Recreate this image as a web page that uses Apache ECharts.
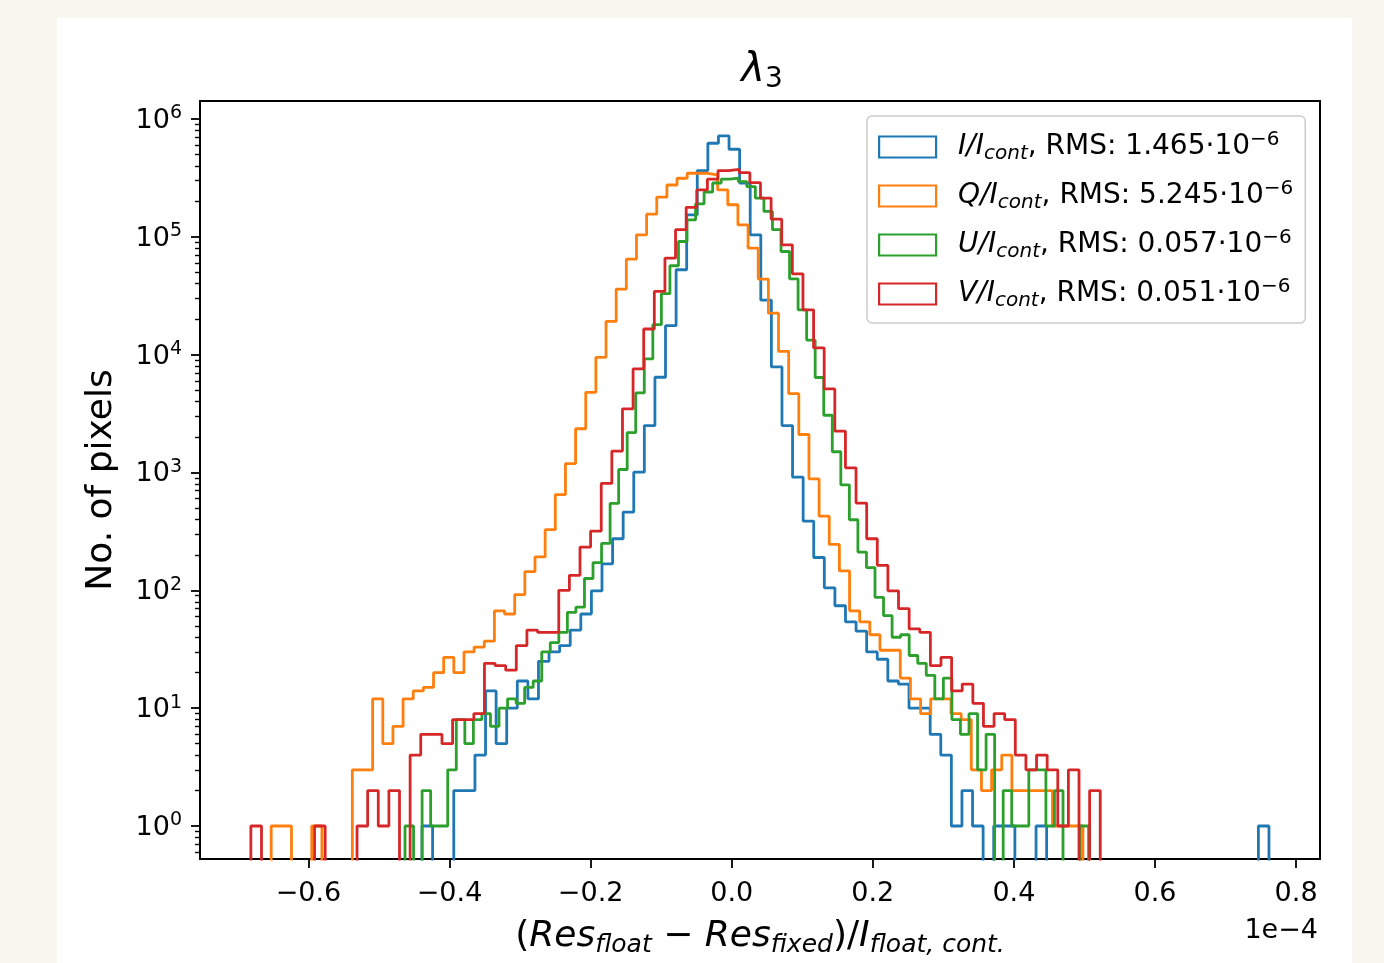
<!DOCTYPE html>
<html><head><meta charset="utf-8">
<script src="https://cdn.jsdelivr.net/npm/echarts@6/dist/echarts.min.js"></script>
<style>
html,body{margin:0;padding:0;width:1384px;height:963px;background:#f8f8f1;overflow:hidden}
#c{position:absolute;left:57px;top:18px;width:1295px;height:945px;background:#fff}
</style></head><body><div id="c"></div>
<script>
// ---- data ----
const xTickValues = [-0.6, -0.4, -0.2, 0.0, 0.2, 0.4, 0.6, 0.8];
const yTickValues = [1, 10, 100, 1e3, 1e4, 1e5, 1e6];
const yMinorTickValues = [0.6,0.7,0.8,0.9,2,3,4,5,6,7,8,9,20,30,40,50,60,70,80,90,200,300,400,500,600,700,800,900,
  2e3,3e3,4e3,5e3,6e3,7e3,8e3,9e3,2e4,3e4,4e4,5e4,6e4,7e4,8e4,9e4,2e5,3e5,4e5,5e5,6e5,7e5,8e5,9e5];
const seriesNames = ['I', 'Q', 'U', 'V'];
const rmsValues = ['1.465', '5.245', '0.057', '0.051'];
const colors = ['#1f77b4', '#ff7f0e', '#2ca02c', '#d62728'];
// histogram bins (x in units of 1e-4), 80 bins each
const binStarts = [-0.4390, -0.6528, -0.4631, -0.6816];
const binWidths = [0.015007, 0.014383, 0.012113, 0.015050];
const countsI = [1,0,0,2,2,4,14,5,10,17,
  12,25,30,34,46,63,99,168,274,461,
  1006,2500,6430,17600,52500,153500,365000,622000,718000,553000,
  285000,104000,29000,7870,2500,912,387,190,105,74,
  54,45,30,26,17,16,10,10,6,4,
  1,2,1,0,1,1,0,0,1,0,
  0,0,0,0,0,0,0,0,0,0,
  0,0,0,0,0,0,0,0,0,1];
const countsQ = [1,1,0,0,1,0,0,0,3,3,
  12,5,7,12,14,15,20,27,20,30,
  33,37,67,63,92,144,192,327,648,1190,
  2350,4790,9490,19150,36000,64700,104000,155600,217000,275000,
  314000,346000,346000,335000,250000,187000,126000,80000,43800,22500,
  10660,4670,2100,884,426,245,146,67,54,42,
  31,31,18,12,9,12,12,9,8,3,
  2,3,4,2,2,2,2,1,1,1];
const countsU = [1,0,2,1,1,3,8,5,8,9,
  7,10,12,11,15,17,30,36,44,65,
  72,126,172,250,546,1060,2180,4730,9190,17950,
  32900,56800,91200,139000,190000,240000,286000,308000,314000,294000,
  267000,213000,164000,115000,75000,44000,24000,13300,6400,3060,
  1500,785,397,211,156,87,61,40,42,28,
  24,19,12,18,8,6,9,3,6,0,
  2,1,1,3,3,1,2,0,0,1];
const countsV = [1,0,0,0,0,0,1,0,0,0,
  1,2,1,2,0,4,6,6,5,8,
  8,9,24,23,21,34,46,44,44,100,
  134,233,318,807,1520,3470,7570,16500,34400,65900,
  115000,178000,250000,308000,365000,374000,350000,288000,213000,141000,
  85500,48500,24000,11400,5120,2240,1096,550,274,163,
  99,70,47,44,23,27,14,16,11,7,
  9,8,4,3,4,3,1,3,0,2];
const allCounts = [countsI, countsQ, countsU, countsV];

// ---- build ----
const FONT = "'DejaVu Sans', 'Liberation Sans', sans-serif";
const FLOOR = 1e-3; // zero bins fall below the log axis and are clipped
function stepPoints(start, width, counts) {
  const pts = [[start, FLOOR]];
  counts.forEach((c, k) => pts.push([start + k * width, c > 0 ? c : FLOOR]));
  const end = start + counts.length * width;
  const last = counts[counts.length - 1];
  pts.push([end, last > 0 ? last : FLOOR]);
  pts.push([end, FLOOR]);
  return pts;
}
const series = seriesNames.map((n, i) => ({
  name: n, type: 'line', step: 'end', data: stepPoints(binStarts[i], binWidths[i], allCounts[i]),
  showSymbol: false, symbol: 'none', clip: true, silent: true,
  lineStyle: {color: colors[i], width: 2.8}, itemStyle: {color: colors[i]}, z: 2 + i
}));

const chart = echarts.init(document.getElementById('c'), null, {renderer: 'canvas'});
const base = {fontFamily: FONT, color: '#000'};
const option = {
  animation: false,
  backgroundColor: '#fff',
  grid: {left: 143, top: 83, right: 32, bottom: 103, show: true, borderColor: '#000', borderWidth: 2, backgroundColor: '#fff'},
  graphic: [
    {type: 'text', x: 705, y: 53, style: {text: '{it|λ}{sub|3}', textAlign: 'center', textVerticalAlign: 'middle',
      rich: {it: Object.assign({fontSize: 40, fontStyle: 'italic', lineHeight: 46}, base),
             sub: Object.assign({fontSize: 28, verticalAlign: 'bottom', lineHeight: 30}, base)}}},
    {type: 'text', x: 1261, y: 913, style: {text: '1e\u22124', textAlign: 'right', textVerticalAlign: 'middle',
      font: "27px 'DejaVu Sans'", fill: '#000'}}
  ],
  legend: {
    orient: 'vertical', left: 810, top: 98, padding: [14, 12, 12, 11],
    itemWidth: 57, itemHeight: 21, itemGap: 15, selectedMode: false,
    backgroundColor: 'rgba(255,255,255,0.8)', borderColor: '#cccccc', borderWidth: 1.5, borderRadius: 5,
    data: seriesNames.map((n, i) => ({name: n, icon: 'rect',
      itemStyle: {color: 'rgba(0,0,0,0)', borderColor: colors[i], borderWidth: 2.2}})),
    formatter: name => {
      const i = seriesNames.indexOf(name);
      return `{it|${name}/I}{sub|cont}{n|, RMS: ${rmsValues[i]}\u00b710}{sup|\u22126}`;
    },
    textStyle: {padding: [0, 0, 0, 17], rich: {
      it: Object.assign({fontSize: 28, fontStyle: 'italic', lineHeight: 34}, base),
      n: Object.assign({fontSize: 28, lineHeight: 34}, base),
      sub: Object.assign({fontSize: 20, fontStyle: 'italic', verticalAlign: 'bottom', lineHeight: 16}, base),
      sup: Object.assign({fontSize: 20, verticalAlign: 'top', lineHeight: 16}, base)}}
  },
  xAxis: {
    type: 'value', min: -0.7537, max: 0.8339,
    splitLine: {show: false}, axisLine: {show: false, onZero: false},
    axisTick: {show: true, length: 9, customValues: xTickValues, lineStyle: {color: '#000', width: 1.8}},
    axisLabel: {customValues: xTickValues, margin: 21, fontSize: 27, fontFamily: FONT, color: '#000',
      formatter: v => (v < -1e-9 ? '\u2212' : '') + Math.abs(v).toFixed(1)},
    name: '{n|(}{it|Res}{sub|float}{n| \u2212 }{it|Res}{sub|fixed}{n|)/}{it|I}{sub|float, cont.}',
    nameLocation: 'middle', nameGap: 57,
    nameTextStyle: {rich: {
      n: Object.assign({fontSize: 36, lineHeight: 42}, base),
      it: Object.assign({fontSize: 36, fontStyle: 'italic', lineHeight: 42}, base),
      sub: Object.assign({fontSize: 25, fontStyle: 'italic', verticalAlign: 'bottom', lineHeight: 24}, base)}}
  },
  yAxis: [{
    type: 'log', logBase: 10, min: 0.525, max: 1.42e6,
    splitLine: {show: false}, axisLine: {show: false, onZero: false},
    axisTick: {show: true, length: 9, customValues: yTickValues, lineStyle: {color: '#000', width: 1.8}},
    axisLabel: {customValues: yTickValues, margin: 18,
      formatter: v => `{b|10}{sup|${Math.round(Math.log10(v))}}`,
      rich: {b: Object.assign({fontSize: 27, lineHeight: 30, padding: [4, 0, 0, 0]}, base),
             sup: Object.assign({fontSize: 19, verticalAlign: 'top', lineHeight: 14}, base)}},
    name: 'No. of pixels', nameLocation: 'middle', nameGap: 80, nameRotate: 90,
    nameTextStyle: {fontSize: 36, fontFamily: FONT, color: '#000'}
  }, {
    type: 'log', logBase: 10, min: 0.525, max: 1.42e6, position: 'left',
    splitLine: {show: false}, axisLine: {show: false, onZero: false}, axisLabel: {show: false},
    axisTick: {show: true, length: 5, customValues: yMinorTickValues, lineStyle: {color: '#000', width: 1.4}}
  }],
  series: series
};
chart.setOption(option);
</script></body></html>
